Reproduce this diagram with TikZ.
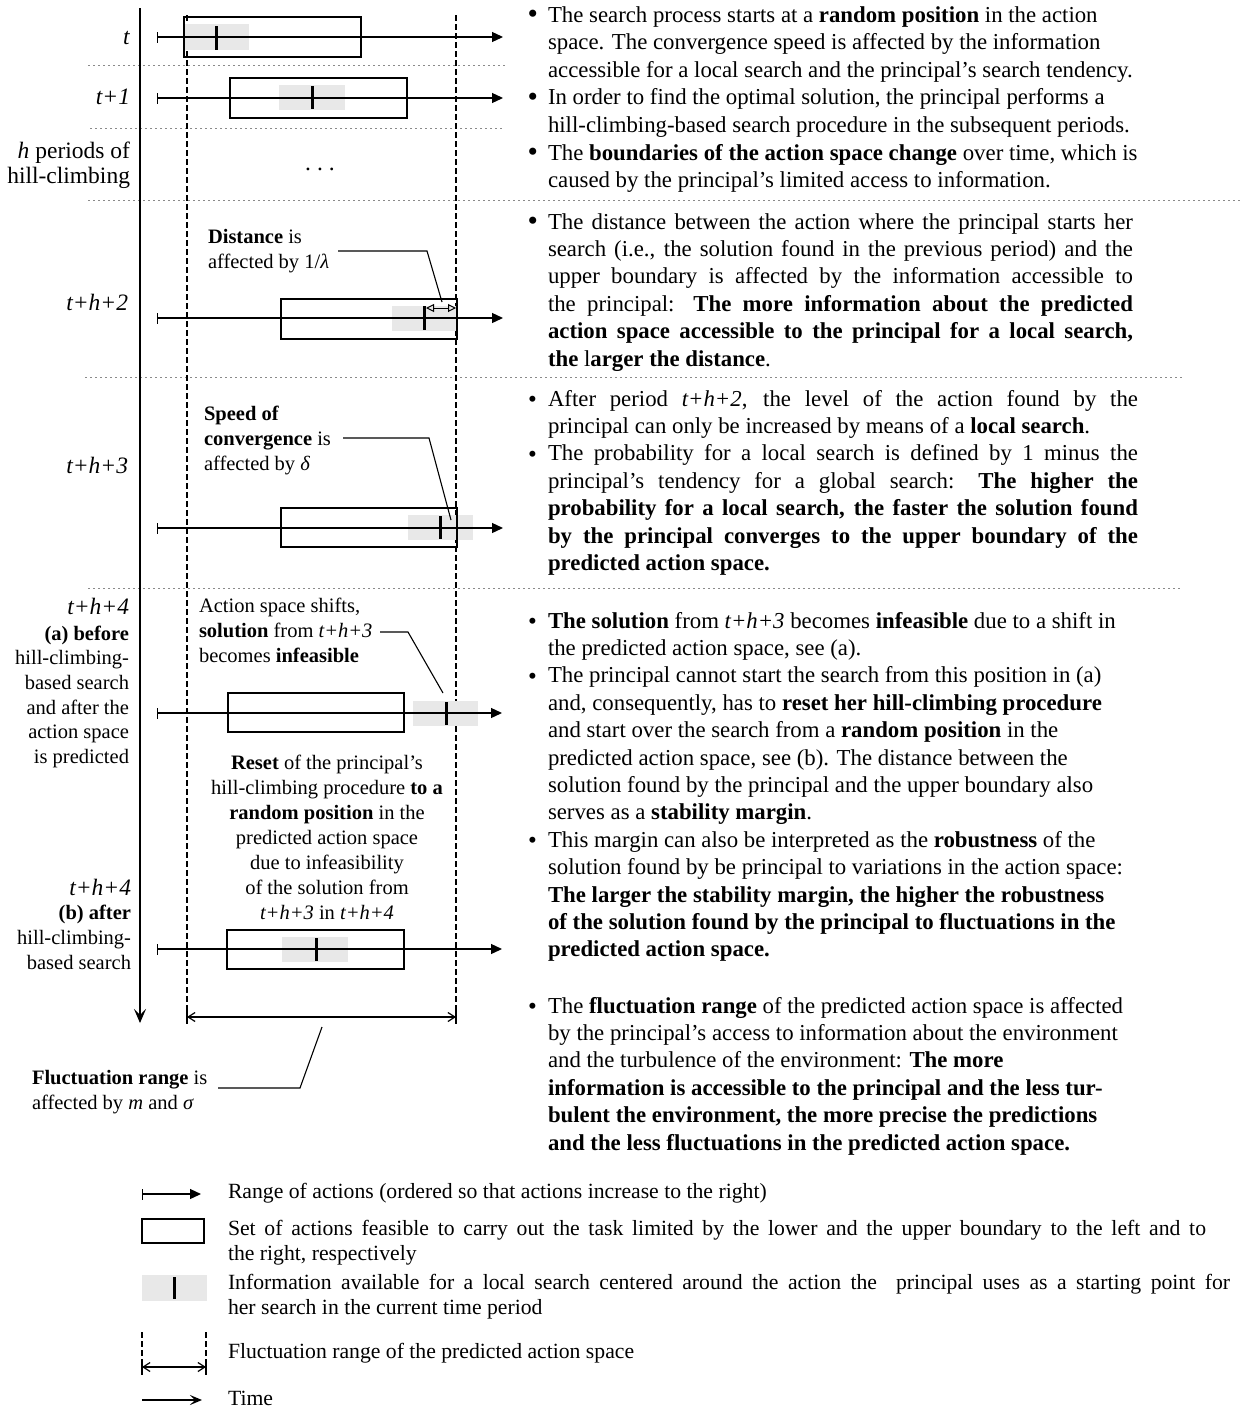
\documentclass[tikz,border=0pt]{standalone}
\usepackage{fontspec}
\usepackage{graphicx}
\setmainfont{Liberation Serif}
\usetikzlibrary{arrows.meta}
\definecolor{infogray}{HTML}{E8E8E8}
\definecolor{sepgray}{HTML}{8A8A8A}
\newcommand{\rfont}{\fontsize{22.8}{27.4}\selectfont}
\newcommand{\rfonta}{\fontsize{22.8}{27.6}\selectfont}
\newcommand{\tfont}{\fontsize{23.5}{25}\selectfont}
\newcommand{\lfont}{\fontsize{20.5}{24.7}\selectfont}
\newcommand{\afont}{\fontsize{20.5}{25}\selectfont}
\newcommand{\gfont}{\fontsize{21.7}{25}\selectfont}
\newcommand{\bul}{\llap{\raisebox{-1.5pt}{\scalebox{1.3}{\textbullet}}\hspace{10pt}}}
\newcommand{\bulb}{\llap{\raisebox{-1.5pt}{\scalebox{1.1}{\textbullet}}\hspace{11pt}}}
\newcommand{\jl}[2]{\makebox[#1][s]{#2}}
\begin{document}
\begin{tikzpicture}[x=1pt,y=-1pt,
  txt/.style={inner sep=0pt,outer sep=0pt,align=left,anchor=base west},
  rtxt/.style={inner sep=0pt,outer sep=0pt,align=right,anchor=base east},
  ctxt/.style={inner sep=0pt,outer sep=0pt,align=center,anchor=base},
  axisline/.style={line width=1.3pt,{Bar[width=11pt,line width=1.3pt]}-{Triangle[length=11pt,width=10pt]}},
  feas/.style={draw,line width=1.3pt},
  info/.style={fill=infogray,draw=none},
  marker/.style={line width=3pt},
  sepline/.style={sepgray,line width=1pt,dash pattern=on 1.5pt off 3.5pt},
  fluct/.style={line width=1.2pt,dash pattern=on 6pt off 3pt},
  callout/.style={line width=1.1pt},
  fluctarrow/.style={line width=1.2pt,{Straight Barb[length=7pt,width=9pt,line width=1.2pt]}-{Straight Barb[length=7pt,width=9pt,line width=1.2pt]}}
]
\useasboundingbox (0,0) rectangle (1240,1408);

% separators
\draw[sepline] (88,65) -- (505,65);
\draw[sepline] (90,128) -- (505,128);
\draw[sepline] (88,200) -- (1240,200);
\draw[sepline] (85,377) -- (1183,377);
\draw[sepline] (88,588) -- (1183,588);

% time axis
\draw[line width=1.8pt,-{Stealth[length=14pt,width=12pt,inset=6pt]}] (140,8) -- (140,1023);

% fluctuation range lines
\draw[fluct] (187,15) -- (187,1008);
\draw[fluct] (456,15) -- (456,1008);
\draw[line width=1.2pt] (187,1007) -- (187,1024);
\draw[line width=1.2pt] (456,1007) -- (456,1024);
\coordinate (fl) at (187,1017);
\coordinate (fr) at (456,1017);
\draw[fluctarrow] (fl) -- (fr);

% row t
\fill[info] (184,24) rectangle (249,50);
\draw[axisline] (157,37) -- (503,37);
\draw[feas] (184,17) rectangle (361,57);
\draw[marker] (216,26) -- (216,50);
% row t+1
\fill[info] (279,85) rectangle (345,110);
\draw[axisline] (157,98) -- (503,98);
\draw[feas] (230,78) rectangle (407,118);
\draw[marker] (312,86) -- (312,109);
% dots
\node[ctxt,font=\tfont] (dots) at (320,170) {.\hspace{6pt}.\hspace{6pt}.};
% row t+h+2
\fill[info] (392,305.5) rectangle (456,330.5);
\draw[axisline] (157,318) -- (503,318);
\draw[feas] (281,299) rectangle (457,339);
\draw[marker] (424,306) -- (424,330);
\coordinate (da) at (426,308);
\coordinate (db) at (456,308);
\draw[line width=1pt,{Triangle[open,length=8pt,width=8pt]}-{Triangle[open,length=8pt,width=8pt]}] (da) -- (db);
% row t+h+3
\fill[info] (408,515) rectangle (473,540);
\draw[axisline] (157,528) -- (503,528);
\draw[feas] (281,508) rectangle (457,547);
\draw[marker] (440,516) -- (440,539);
% row t+h+4 (a)
\fill[info] (413,701) rectangle (478,726);
\draw[axisline] (157,713) -- (502,713);
\draw[feas] (228,693) rectangle (404,732);
\draw[marker] (446,702) -- (446,725);
% row t+h+4 (b)
\fill[info] (282,937) rectangle (348,962);
\draw[axisline] (157,949) -- (502,949);
\draw[feas] (227,930) rectangle (404,969);
\draw[marker] (316,938) -- (316,961);

% left labels (base anchor = last line)
\node[rtxt,font=\tfont] (lt) at (130,44) {\textit{t}};
\node[rtxt,font=\tfont] (lt1) at (130,104) {\textit{t+1}};
\node[rtxt,font=\tfont] (lh) at (130,183) {\textit{h} periods of\\hill-climbing};
\node[rtxt,font=\tfont] (lt2) at (128,310) {\textit{t+h+2}};
\node[rtxt,font=\tfont] (lt3) at (128,473) {\textit{t+h+3}};
\node[rtxt,font=\tfont] (lt4a) at (129,614) {\textit{t+h+4}};
\node[rtxt,font=\lfont] (la) at (129,763.5) {\textbf{(a) before}\\hill-climbing-\\based search\\and after the\\action space\\is predicted};
\node[rtxt,font=\tfont] (lt4b) at (131,895) {\textit{t+h+4}};
\node[rtxt,font=\lfont] (lb) at (131,969) {\textbf{(b) after}\\hill-climbing-\\based search};

% annotations
\node[txt,font=\afont] (ldist) at (208,268) {\textbf{Distance} is\\affected by 1/\textit{λ}};
\coordinate (c1a) at (338,251);
\coordinate (c1b) at (427,251);
\coordinate (c1c) at (442,302);
\draw[callout] (c1a) -- (c1b) -- (c1c);

\node[txt,font=\afont] (lspeed) at (204,470) {\textbf{Speed of}\\\textbf{convergence} is\\affected by \textit{δ}};
\coordinate (c2a) at (343,438);
\coordinate (c2b) at (429,438);
\coordinate (c2c) at (451,520);
\draw[callout] (c2a) -- (c2b) -- (c2c);

\node[txt,font=\afont] (lshift) at (199,662) {Action space shifts,\\\textbf{solution} from \textit{t+h+3}\\becomes \textbf{infeasible}};
\coordinate (c3a) at (380,632);
\coordinate (c3b) at (408,632);
\coordinate (c3c) at (443,693);
\draw[callout] (c3a) -- (c3b) -- (c3c);

\node[ctxt,font=\afont] (lreset) at (327,919) {\textbf{Reset} of the principal’s\\hill-climbing procedure \textbf{to a}\\\textbf{random position} in the\\predicted action space\\due to infeasibility\\of the solution from\\\textit{t+h+3} in \textit{t+h+4}};

\node[txt,font=\afont] (lfluct) at (32,1109) {\textbf{Fluctuation range} is\\affected by \textit{m} and \textit{σ}};
\coordinate (c4a) at (218,1088);
\coordinate (c4b) at (300,1088);
\coordinate (c4c) at (322,1027);
\draw[callout] (c4a) -- (c4b) -- (c4c);

% right text blocks
\node[txt,font=\rfonta] (b1) at (548,187.6) {\bul The search process starts at a \textbf{random position} in the action\\space. The convergence speed is affected by the information\\accessible for a local search and the principal’s search tendency.\\\bul In order to find the optimal solution, the principal performs a\\hill-climbing-based search procedure in the subsequent periods.\\\bul The \textbf{boundaries of the action space change} over time, which is\\caused by the principal’s limited access to information.};

\node[txt,font=\rfont] (b2) at (548,366) {\jl{585pt}{\bul The distance between the action where the principal starts her}\\\jl{585pt}{search (i.e., the solution found in the previous period) and the}\\\jl{585pt}{upper boundary is affected by the information accessible to}\\\jl{585pt}{the principal: \textbf{The more information about the predicted}}\\\jl{585pt}{\textbf{action space accessible to the principal for a local search,}}\\\textbf{the} l\textbf{arger the distance}.};

\node[txt,font=\rfont] (b3) at (548,570.4) {\jl{590pt}{\bulb After period \textit{t+h+2}, the level of the action found by the}\\principal can only be increased by means of a \textbf{local search}.\\\jl{590pt}{\bulb The probability for a local search is defined by 1 minus the}\\\jl{590pt}{principal’s tendency for a global search: \textbf{The higher the}}\\\jl{590pt}{\textbf{probability for a local search, the faster the solution found}}\\\jl{590pt}{\textbf{by the principal converges to the upper boundary of the}}\\\textbf{predicted action space.}};

\node[txt,font=\rfont] (b4) at (548,956.8) {\bulb\textbf{The solution} from \textit{t+h+3} becomes \textbf{infeasible} due to a shift in\\the predicted action space, see (a).\\\bulb The principal cannot start the search from this position in (a)\\and, consequently, has to \textbf{reset her hill-climbing procedure}\\and start over the search from a \textbf{random position} in the\\predicted action space, see (b). The distance between the\\solution found by the principal and the upper boundary also\\serves as a \textbf{stability margin}.\\\bulb This margin can also be interpreted as the \textbf{robustness} of the\\solution found by be principal to variations in the action space:\\\textbf{The larger the stability margin, the higher the robustness}\\\textbf{of the solution found by the principal to fluctuations in the}\\\textbf{predicted action space.}};

\node[txt,font=\rfont] (b5) at (548,1150) {\bulb The \textbf{fluctuation range} of the predicted action space is affected\\by the principal’s access to information about the environment\\and the turbulence of the environment: \textbf{The more}\\\textbf{information is accessible to the principal and the less tur-}\\\textbf{bulent the environment, the more precise the predictions}\\\textbf{and the less fluctuations in the predicted action space.}};

% legend
\draw[axisline] (142,1194) -- (201,1194);
\node[txt,font=\gfont] (g1) at (228,1198) {Range of actions (ordered so that actions increase to the right)};
\draw[feas] (142,1219) rectangle (204,1243);
\node[txt,font=\gfont] (g2) at (228,1260) {\jl{978pt}{Set of actions feasible to carry out the task limited by the lower and the upper boundary to the left and to}\\the right, respectively};
\fill[info] (142,1275) rectangle (207,1301);
\draw[marker] (174,1277) -- (174,1299);
\node[txt,font=\gfont] (g3) at (228,1314) {\jl{1002pt}{Information available for a local search centered around the action the\ \ principal uses as a starting point for}\\her search in the current time period};
\draw[fluct] (142,1332) -- (142,1360);
\draw[fluct] (206,1332) -- (206,1360);
\draw[line width=1.2pt] (142,1359) -- (142,1375);
\draw[line width=1.2pt] (206,1359) -- (206,1375);
\coordinate (gl) at (142,1367);
\coordinate (gr) at (206,1367);
\draw[fluctarrow] (gl) -- (gr);
\node[txt,font=\gfont] (g4) at (228,1358) {Fluctuation range of the predicted action space};
\coordinate (ta) at (142,1400);
\coordinate (tb) at (202,1400);
\draw[line width=1.3pt,-{Stealth[length=12pt,width=10pt,inset=5pt]}] (ta) -- (tb);
\node[txt,font=\gfont] (g5) at (228,1405) {Time};
\end{tikzpicture}
\end{document}
